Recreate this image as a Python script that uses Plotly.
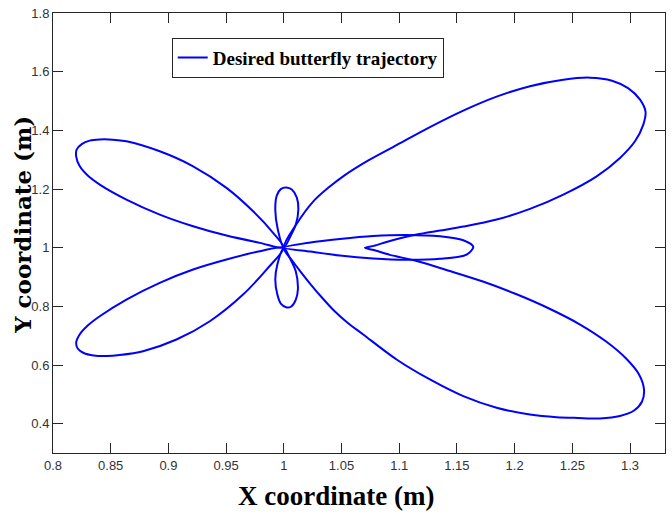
import plotly.graph_objects as go

# ---- data (metres) ----
# Upper-right lobe, kink, lower-right lobe (one continuous stroke from the centre)
right_lobes_x = [1.0, 1.011, 1.0254, 1.0382, 1.0529, 1.0729, 1.0977, 1.1266, 1.1555, 1.1844,
                 1.2133, 1.2422, 1.2653, 1.2844, 1.2983, 1.3087, 1.3134, 1.3115, 1.3043, 1.2913,
                 1.2711, 1.2422, 1.2133, 1.1844, 1.1555, 1.1353, 1.1151, 1.0919, 1.078, 1.0703,
                 1.078, 1.0919, 1.1151, 1.1439, 1.1725, 1.2012, 1.2289, 1.2567, 1.2793, 1.2966,
                 1.3078, 1.3121, 1.3104, 1.3035, 1.2913, 1.274, 1.2549, 1.2364, 1.2133, 1.1844,
                 1.1555, 1.1266, 1.0977, 1.0688, 1.0555, 1.0434, 1.033, 1.0234, 1.0148, 1.0069, 1.0]
right_lobes_y = [1.0, 1.0804, 1.1571, 1.2031, 1.2474, 1.2968, 1.3496, 1.4109, 1.4671, 1.5148,
                 1.5506, 1.5728, 1.5796, 1.5693, 1.5438, 1.5046, 1.4637, 1.4194, 1.3626, 1.306,
                 1.2433, 1.181, 1.1322, 1.0958, 1.0719, 1.0583, 1.0447, 1.0225, 1.0062, 0.9993,
                 0.9919, 0.9755, 0.9544, 0.9203, 0.8845, 0.8419, 0.7943, 0.738, 0.6801, 0.6222,
                 0.5677, 0.5166, 0.4757, 0.445, 0.4263, 0.4178, 0.4195, 0.4222, 0.4314, 0.4542,
                 0.4938, 0.5506, 0.6188, 0.704, 0.7431, 0.7857, 0.83, 0.8743, 0.9169, 0.9578, 1.0]

# Small loop to the right of the centre
small_right_x = [1.0, 1.0231, 1.0486, 1.0774, 1.1064, 1.1353, 1.1555, 1.1642, 1.1584, 1.1353,
                 1.1064, 1.0774, 1.0486, 1.0231, 1.0]
small_right_y = [1.0, 1.0177, 1.0297, 1.0399, 1.0436, 1.0389, 1.0253, 1.0027, 0.9765, 0.9619,
                 0.9585, 0.9629, 0.9731, 0.9867, 1.0]

# Lower-left lobe
lower_left_x = [1.0, 0.9792, 0.9503, 0.9214, 0.8925, 0.8636, 0.8405, 0.8301, 0.8231, 0.8201,
                0.8214, 0.8266, 0.8353, 0.8463, 0.8578, 0.878, 0.907, 0.9359, 0.9647, 0.985, 1.0]
lower_left_y = [1.0, 0.9878, 0.9595, 0.9254, 0.8801, 0.8232, 0.7663, 0.7346, 0.704, 0.6767,
                0.6563, 0.6409, 0.6324, 0.6307, 0.6341, 0.6471, 0.6869, 0.7493, 0.8402, 0.9254, 1.0]

# Upper-left lobe
upper_left_x = [1.0, 0.9792, 0.9503, 0.9214, 0.8925, 0.8636, 0.8405, 0.8301, 0.8231, 0.8201,
                0.8205, 0.8249, 0.8318, 0.8405, 0.8518, 0.8636, 0.8925, 0.9214, 0.9503, 0.9734,
                0.9907, 1.0]
upper_left_y = [1.0, 1.0164, 1.0412, 1.073, 1.1128, 1.1639, 1.215, 1.2457, 1.278, 1.3104,
                1.3343, 1.353, 1.3649, 1.369, 1.3683, 1.3626, 1.3285, 1.2774, 1.2038, 1.124,
                1.0505, 1.0]

# Small loop above the centre
top_loop_x = [1.0, 0.9948, 0.9926, 0.9939, 0.9974, 1.0022, 1.0069, 1.0113, 1.0126, 1.0104, 1.0052, 1.0]
top_loop_y = [1.0, 1.0617, 1.1298, 1.1775, 1.1997, 1.2048, 1.198, 1.1707, 1.1298, 1.0787, 1.0344, 1.0]

# Small loop below the centre
bottom_loop_x = [1.0, 1.0052, 1.0104, 1.0122, 1.0104, 1.0065, 1.0026, 0.9974, 0.9944, 0.9926, 0.9944, 1.0]
bottom_loop_y = [1.0, 0.9646, 0.9186, 0.8573, 0.8232, 0.7994, 0.796, 0.8096, 0.8402, 0.8913, 0.9424, 1.0]

x_tick_vals = [0.8, 0.85, 0.9, 0.95, 1.0, 1.05, 1.1, 1.15, 1.2, 1.25, 1.3]
x_tick_text = ["0.8", "0.85", "0.9", "0.95", "1", "1.05", "1.1", "1.15", "1.2", "1.25", "1.3"]
y_tick_vals = [0.4, 0.6, 0.8, 1.0, 1.2, 1.4, 1.6, 1.8]
y_tick_text = ["0.4", "0.6", "0.8", "1", "1.2", "1.4", "1.6", "1.8"]

segments_x = [right_lobes_x, small_right_x, lower_left_x, upper_left_x, top_loop_x, bottom_loop_x]
segments_y = [right_lobes_y, small_right_y, lower_left_y, upper_left_y, top_loop_y, bottom_loop_y]

xs, ys = [], []
for sx, sy in zip(segments_x, segments_y):
    if xs:
        xs.append(None)
        ys.append(None)
    xs.extend(sx)
    ys.extend(sy)

fig = go.Figure()
fig.add_trace(go.Scatter(
    x=xs, y=ys, mode="lines", name="<b>Desired butterfly trajectory</b>",
    line=dict(color="#0000FF", width=2, shape="spline", smoothing=0.85),
    connectgaps=False,
))

axis_common = dict(
    showline=True, linecolor="#262626", linewidth=1, mirror="allticks",
    ticks="inside", ticklen=10, tickcolor="#262626", tickwidth=1,
    showgrid=False, zeroline=False,
    tickfont=dict(family="Liberation Sans Narrow, Arial Narrow, Liberation Sans, sans-serif",
                  size=13, color="#333333"),
)

fig.update_layout(
    width=672, height=515,
    margin=dict(l=53, r=7, t=13, b=62),
    paper_bgcolor="white", plot_bgcolor="white",
    xaxis=dict(range=[0.8, 1.3303], tickvals=x_tick_vals, ticktext=x_tick_text, **axis_common),
    yaxis=dict(range=[0.3, 1.8], tickvals=y_tick_vals, ticktext=y_tick_text, **axis_common),
    showlegend=True,
    legend=dict(x=0.194, y=0.944, xanchor="left", yanchor="top",
                bgcolor="white", bordercolor="#262626", borderwidth=1,
                itemwidth=30,
                font=dict(family="Liberation Serif, Times New Roman, serif", size=19, color="black")),
    annotations=[
        dict(text="<b>X coordinate (m)</b>", xref="paper", yref="paper",
             x=0.462, y=-0.0985, xanchor="center", yanchor="middle", showarrow=False,
             font=dict(family="Liberation Serif, Times New Roman, serif", size=27, color="black")),
        dict(text="<b>Y coordinate (m)</b>", xref="paper", yref="paper", textangle=-90,
             x=-0.051, y=0.518, xanchor="center", yanchor="middle", showarrow=False,
             font=dict(family="DejaVu Serif, serif", size=23, color="black")),
    ],
)

fig.write_html("out.html")
